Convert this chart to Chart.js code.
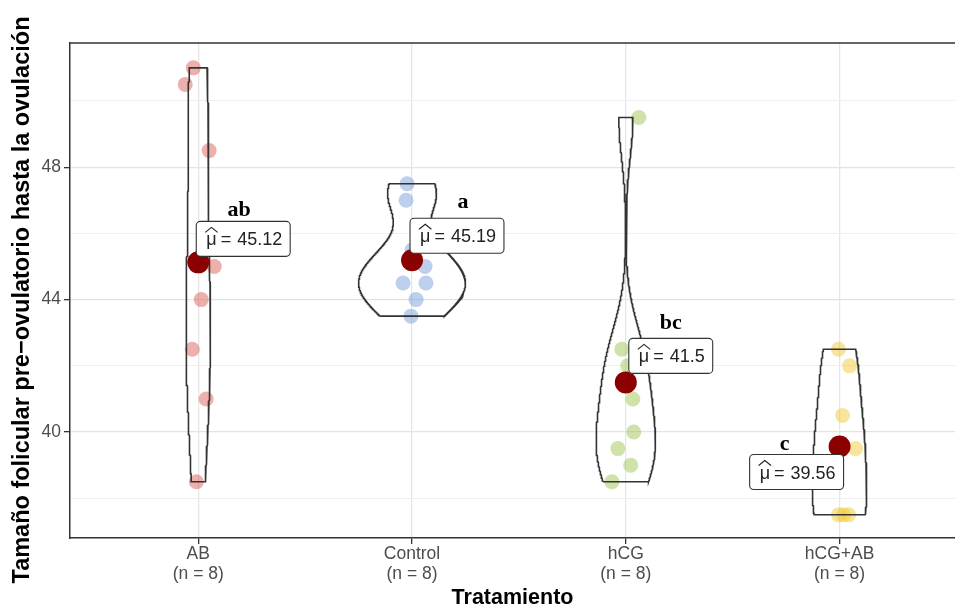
<!DOCTYPE html>
<html>
<head>
<meta charset="utf-8">
<script src="https://cdn.jsdelivr.net/npm/chart.js@4.4.1/dist/chart.umd.min.js"></script>
<style>
  html, body { margin: 0; padding: 0; background: #ffffff; overflow: hidden; }
  #wrap { width: 955px; height: 609px; position: relative; }
</style>
</head>
<body>
<div id="wrap"><canvas id="chart" width="955" height="609"></canvas></div>
<script>
// Treatment groups and the pre-ovulatory follicle size recorded in each one
const groups = ['AB', 'Control', 'hCG', 'hCG+AB'];
const abValues      = [51, 50.5, 48.5, 45, 44, 42.5, 41, 38.5];
const controlValues = [47.5, 47, 45.5, 45, 44.5, 44.5, 44, 43.5];
const hcgValues     = [49.5, 42.5, 42, 41, 40, 39.5, 39, 38.5];
const hcgAbValues   = [42.5, 42, 40.5, 39.5, 39.5, 37.5, 37.5, 37.5];

// Horizontal jitter of each observation (in category units)
const abJitter      = [-0.023, -0.061, 0.051, 0.075, 0.014, -0.028, 0.037, -0.009];
const controlJitter = [-0.023, -0.028, 0.0, 0.061, -0.042, 0.065, 0.019, -0.005];
const hcgJitter     = [0.061, -0.019, 0.009, 0.033, 0.037, -0.037, 0.023, -0.065];
const hcgAbJitter   = [-0.005, 0.047, 0.014, 0.075, -0.005, -0.005, 0.042, 0.019];

// Significance letters and axis ticks
const groupLetters = ['ab', 'a', 'bc', 'c'];
const yTickLabels  = [40, 44, 48];
const yGridValues  = [38, 40, 42, 44, 46, 48, 50];

const yTitle = 'Tamaño folicular pre−ovulatorio hasta la ovulación';
const xTitle = 'Tratamiento';

const groupValues = [abValues, controlValues, hcgValues, hcgAbValues];
const groupJitter = [abJitter, controlJitter, hcgJitter, hcgAbJitter];
const pointColors = ['rgba(214,80,72,0.45)', 'rgba(115,155,215,0.48)', 'rgba(155,195,75,0.48)', 'rgba(241,201,45,0.48)'];

// Placement of each mean label box relative to its mean marker (pixels)
const labelPlacement = [
  { dx: -2, dy: -6, hAlign: 'left',  vAlign: 'bottom', letterDx: -4,  letterGap: 5 },
  { dx: -2, dy: -7, hAlign: 'left',  vAlign: 'bottom', letterDx: 6,   letterGap: 10 },
  { dx: 3,  dy: -9, hAlign: 'left',  vAlign: 'bottom', letterDx: 0,   letterGap: 9 },
  { dx: 4,  dy: 8,  hAlign: 'right', vAlign: 'top',    letterDx: -12, letterGap: 5 }
];

const SANS = "'Liberation Sans', Arial, sans-serif";
const SERIF = "'Liberation Serif', 'Times New Roman', serif";

// ---- statistics helpers ----
const mean = a => a.reduce((s, v) => s + v, 0) / a.length;
function sd(a) {
  const m = mean(a);
  return Math.sqrt(a.reduce((s, v) => s + (v - m) * (v - m), 0) / (a.length - 1));
}
function quantile7(sorted, p) {
  const h = (sorted.length - 1) * p;
  const lo = Math.floor(h);
  const hi = Math.min(lo + 1, sorted.length - 1);
  return sorted[lo] + (h - lo) * (sorted[hi] - sorted[lo]);
}
function bandwidthNrd0(a) {
  const s = a.slice().sort((p, q) => p - q);
  const iqr = quantile7(s, 0.75) - quantile7(s, 0.25);
  let lo = Math.min(sd(a), iqr / 1.34);
  if (!(lo > 0)) lo = sd(a) || Math.abs(s[0]) || 1;
  return 0.9 * lo * Math.pow(a.length, -0.2);
}
// Gaussian kernel density over the observed range (trimmed violin)
function kde(a, nGrid) {
  const bw = bandwidthNrd0(a);
  const lo = Math.min(...a), hi = Math.max(...a);
  const out = [];
  for (let k = 0; k < nGrid; k++) {
    const y = lo + (hi - lo) * k / (nGrid - 1);
    let d = 0;
    for (const v of a) {
      const z = (y - v) / bw;
      d += Math.exp(-0.5 * z * z);
    }
    out.push({ y, d: d / (a.length * bw * Math.sqrt(2 * Math.PI)) });
  }
  return out;
}
// R-style rounding to two decimals (ties to even), trailing zeros dropped
function formatMean(v) {
  const s = v * 100;
  const f = Math.floor(s);
  let r;
  if (Math.abs(s - f - 0.5) < 1e-9) r = (f % 2 === 0) ? f : f + 1;
  else r = Math.round(s);
  return String(r / 100);
}

// ---- violin outlines (area-scaled, total width 0.5) ----
const densities = groupValues.map(a => kde(a, 512));
const maxDensity = Math.max(...densities.map(g => Math.max(...g.map(p => p.d))));
const violinWidth = 0.5;
const violinOutlines = densities.map((g, i) => {
  const c = i + 1;
  const left = g.map(p => ({ x: c - (p.d / maxDensity) * violinWidth / 2, y: p.y }));
  const right = g.slice().reverse().map(p => ({ x: c + (p.d / maxDensity) * violinWidth / 2, y: p.y }));
  return left.concat(right, [left[0]]);
});

const groupMeans = groupValues.map(mean);

const datasets = [];
// mean markers on top
datasets.push({
  label: 'means',
  data: groupMeans.map((m, i) => ({ x: i + 1, y: m })),
  pointRadius: 11, pointHoverRadius: 11,
  pointBackgroundColor: '#8b0000', pointBorderWidth: 0,
  order: 0
});
violinOutlines.forEach((pts, i) => {
  datasets.push({
    label: 'violin ' + groups[i],
    data: pts,
    showLine: true, fill: false,
    borderColor: '#333333', borderWidth: 1.6,
    pointRadius: 0, pointHoverRadius: 0, tension: 0,
    order: 1
  });
});
groupValues.forEach((vals, i) => {
  datasets.push({
    label: groups[i],
    data: vals.map((v, k) => ({ x: i + 1 + groupJitter[i][k], y: v })),
    pointRadius: 7.5, pointHoverRadius: 7.5,
    pointBackgroundColor: pointColors[i], pointBorderWidth: 0,
    order: 2
  });
});

// ---- overlay: panel top edge, mean labels, letters, axis text ----
const overlay = {
  id: 'overlay',
  afterDatasetsDraw(chart) {
    const { ctx, chartArea, scales } = chart;
    ctx.save();
    // panel top border
    ctx.strokeStyle = '#333333';
    ctx.lineWidth = 1.5;
    ctx.beginPath();
    ctx.moveTo(chartArea.left, chartArea.top);
    ctx.lineTo(chartArea.right, chartArea.top);
    ctx.stroke();

    groupMeans.forEach((m, i) => {
      const px = scales.x.getPixelForValue(i + 1);
      const py = scales.y.getPixelForValue(m);
      const pl = labelPlacement[i];
      const valueText = formatMean(m);
      ctx.font = '18px ' + SANS;
      const muW = ctx.measureText('μ').width;
      const eqW = ctx.measureText('=').width;
      const valW = ctx.measureText(valueText).width;
      const boxW = 10 + muW + 4 + eqW + 6 + valW + 8;
      const boxH = 35;
      const bx = pl.hAlign === 'left' ? px + pl.dx : px + pl.dx - boxW;
      const by = pl.vAlign === 'bottom' ? py + pl.dy - boxH : py + pl.dy;

      // rounded white box
      const r = 4;
      ctx.beginPath();
      ctx.moveTo(bx + r, by);
      ctx.lineTo(bx + boxW - r, by);
      ctx.arcTo(bx + boxW, by, bx + boxW, by + r, r);
      ctx.lineTo(bx + boxW, by + boxH - r);
      ctx.arcTo(bx + boxW, by + boxH, bx + boxW - r, by + boxH, r);
      ctx.lineTo(bx + r, by + boxH);
      ctx.arcTo(bx, by + boxH, bx, by + boxH - r, r);
      ctx.lineTo(bx, by + r);
      ctx.arcTo(bx, by, bx + r, by, r);
      ctx.closePath();
      ctx.fillStyle = '#ffffff';
      ctx.fill();
      ctx.strokeStyle = '#333333';
      ctx.lineWidth = 1.1;
      ctx.stroke();

      // μ with hat, "=", value
      const base = by + boxH - 11;
      ctx.fillStyle = '#222222';
      ctx.textBaseline = 'alphabetic';
      ctx.textAlign = 'left';
      let tx = bx + 10;
      ctx.fillText('μ', tx, base);
      ctx.beginPath();
      ctx.lineWidth = 1.1;
      ctx.strokeStyle = '#222222';
      ctx.moveTo(tx - 1, base - 13);
      ctx.lineTo(tx + muW / 2, base - 18);
      ctx.lineTo(tx + muW + 1, base - 13);
      ctx.stroke();
      tx += muW + 4;
      ctx.fillText('=', tx, base);
      tx += eqW + 6;
      ctx.fillText(valueText, tx, base);

      // significance letter
      ctx.font = 'bold 22px ' + SERIF;
      ctx.fillStyle = '#000000';
      ctx.textAlign = 'center';
      ctx.fillText(groupLetters[i], bx + boxW / 2 + pl.letterDx, by - pl.letterGap);
    });

    // x-axis category labels
    ctx.fillStyle = '#4d4d4d';
    ctx.textAlign = 'center';
    ctx.textBaseline = 'middle';
    ctx.font = '17.5px ' + SANS;
    groups.forEach((g, i) => {
      const px = scales.x.getPixelForValue(i + 1);
      ctx.fillText(g, px, 554);
      ctx.fillText('(n = ' + groupValues[i].length + ')', px, 574);
    });

    // axis titles
    ctx.fillStyle = '#000000';
    ctx.font = 'bold 21.5px ' + SANS;
    ctx.fillText(xTitle, (chartArea.left + chartArea.right) / 2, 598);
    ctx.translate(23, 300);
    ctx.rotate(-Math.PI / 2);
    ctx.font = 'bold 23.5px ' + SANS;
    ctx.fillText(yTitle, 0, 0);
    ctx.restore();
  }
};

new Chart(document.getElementById('chart').getContext('2d'), {
  type: 'scatter',
  data: { datasets },
  options: {
    responsive: false,
    animation: false,
    events: [],
    layout: { autoPadding: false, padding: { top: 43, right: 0, bottom: 0, left: 0 } },
    plugins: { legend: { display: false }, tooltip: { enabled: false } },
    scales: {
      x: {
        type: 'linear',
        min: 0.4,
        max: 4.54,
        afterBuildTicks: s => { s.ticks = groups.map((g, i) => ({ value: i + 1 })); },
        afterFit: s => { s.height = 71; s.paddingLeft = 0; s.paddingRight = 0; },
        ticks: { display: false },
        grid: { color: '#e6e6e6', lineWidth: 1.3, tickLength: 6, tickColor: '#333333', tickWidth: 1.3, drawTicks: true },
        border: { display: true, color: '#333333', width: 1.5 }
      },
      y: {
        type: 'linear',
        min: 36.8,
        max: 51.75,
        afterBuildTicks: s => { s.ticks = yGridValues.map(v => ({ value: v })); },
        afterFit: s => { s.width = 70; s.paddingTop = 0; s.paddingBottom = 0; },
        ticks: {
          padding: 3,
          color: '#4d4d4d',
          font: { family: SANS, size: 17.5 },
          callback: v => yTickLabels.includes(v) ? String(v) : ''
        },
        grid: {
          color: c => (c.tick && yTickLabels.includes(c.tick.value)) ? '#e3e3e3' : '#efefef',
          lineWidth: c => (c.tick && yTickLabels.includes(c.tick.value)) ? 1.3 : 1,
          tickLength: 6,
          tickWidth: 1.3,
          tickColor: c => (c.tick && yTickLabels.includes(c.tick.value)) ? '#333333' : 'rgba(0,0,0,0)'
        },
        border: { display: true, color: '#333333', width: 1.5 }
      }
    }
  },
  plugins: [overlay]
});
</script>
</body>
</html>
